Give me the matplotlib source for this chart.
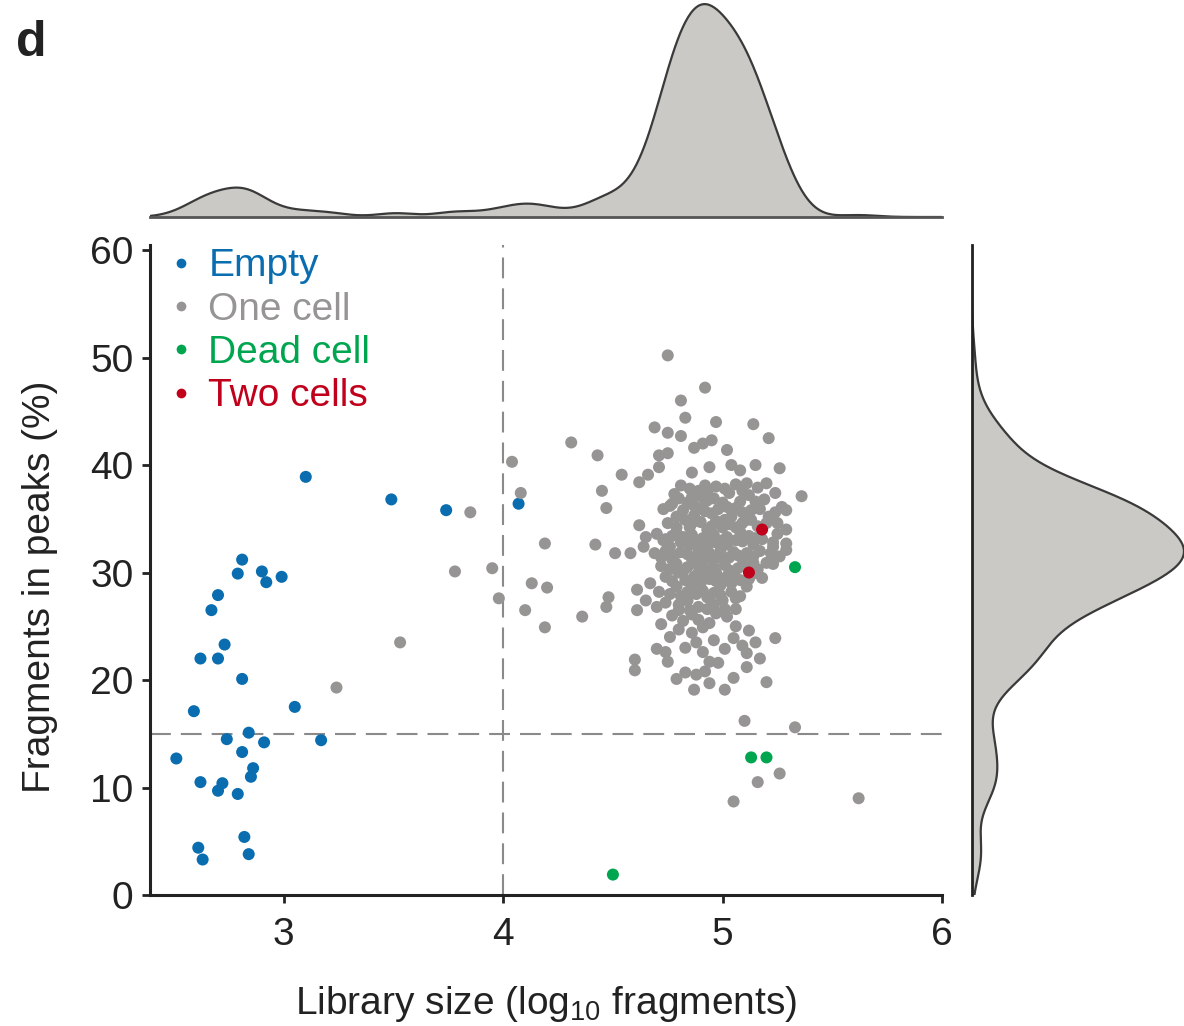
import matplotlib
matplotlib.use("Agg")

import numpy as np
import matplotlib.pyplot as plt
from matplotlib.lines import Line2D

plt.rcParams["font.family"] = ["Liberation Sans", "DejaVu Sans"]
plt.rcParams["mathtext.fontset"] = "custom"
plt.rcParams["mathtext.rm"] = "Liberation Sans"

# x: library size (log10 fragments), y: fragments in peaks (%)
empty_x = [3.10, 2.81, 2.79, 2.90, 2.92, 2.99, 2.70, 2.67, 2.73, 2.62, 2.70,
           2.81, 2.59, 3.05, 2.84, 2.74, 2.91, 3.17, 2.81, 2.51, 2.86, 2.85,
           2.62, 2.72, 2.70, 2.79, 2.82, 2.61, 2.63, 2.84, 3.49, 3.74, 4.07]
empty_y = [38.9, 31.2, 29.9, 30.1, 29.1, 29.6, 27.9, 26.5, 23.3, 22.0, 22.0,
           20.1, 17.1, 17.5, 15.1, 14.5, 14.2, 14.4, 13.3, 12.7, 11.8, 11.0,
           10.5, 10.4, 9.7, 9.4, 5.4, 4.4, 3.3, 3.8, 36.8, 35.8, 36.4]

one_x = [3.24, 3.53, 3.78, 3.85, 3.95, 3.98, 4.04, 4.08, 4.13, 4.20, 4.10,
         4.19, 4.19, 4.31, 4.36, 4.42, 4.43, 4.45, 4.47, 4.48, 4.47, 4.51,
         4.54, 5.10, 5.33, 5.26, 5.16, 5.05, 5.62,
         4.75, 4.92, 4.81, 4.83, 4.97, 5.14, 5.21, 4.69, 4.75, 4.81, 4.91,
         4.95, 5.02, 4.87, 4.71, 4.75, 4.71, 4.62, 4.66, 4.94, 5.04, 5.08,
         5.15, 5.26, 5.11, 4.86, 4.81, 4.92, 5.20, 5.24, 5.36, 5.29, 5.03,
         4.86, 4.76, 4.62,
         4.84, 4.93, 5.00, 5.08, 5.15, 5.27, 4.79, 4.87, 4.95, 5.04, 5.11,
         5.21, 5.29, 4.79, 4.85, 4.93, 5.00, 5.08, 4.65, 4.73, 4.81, 4.90,
         4.97, 5.06, 5.23, 5.29,
         4.64, 4.76, 4.85, 4.93, 5.02, 5.14, 5.23, 5.29, 4.77, 4.86, 4.95,
         5.03, 5.09, 5.20, 4.80, 4.89, 4.97, 5.05, 5.18, 4.67, 4.79, 4.90,
         4.99, 5.11, 4.65, 4.74, 4.84, 4.93, 5.00, 4.77, 4.85, 4.97, 5.02,
         4.58, 4.61, 4.71, 4.61, 4.80, 4.91, 4.80, 4.76, 4.86, 4.96, 5.05,
         5.15, 5.24, 4.74, 4.75, 4.60, 4.60, 4.91, 4.94, 4.98, 5.11, 5.17,
         5.11, 4.83, 4.88, 4.94, 5.01, 4.87, 5.20,
         # dense core, overlapping dots
         4.89, 4.97, 5.06, 5.16, 4.80, 4.90, 4.96, 5.12, 5.19,
         4.82, 4.90, 4.98, 5.06, 5.13, 5.24, 4.73,
         4.75, 4.83, 4.90, 4.97, 5.03, 5.09, 5.16, 5.25,
         4.70, 4.77, 4.86, 4.91, 4.96, 5.02, 5.12, 5.18, 5.25,
         4.69, 4.74, 4.81, 4.89, 4.94, 4.99, 5.05, 5.11, 5.17, 5.26,
         4.72, 4.79, 4.84, 4.91, 4.96, 5.01, 5.07, 5.14, 5.23,
         4.74, 4.83, 4.87, 4.94, 5.01, 5.08, 5.14,
         4.76, 4.84, 4.88, 4.96, 5.04, 5.08,
         4.70, 4.80, 4.89, 4.96, 5.06,
         4.72, 4.82, 4.89, 4.94, 5.06, 5.12,
         4.83, 4.88, 5.01, 5.09, 4.70,
         4.79, 5.05, 4.92,
         4.78, 4.85, 4.93, 5.01, 5.09,
         4.77, 4.87, 4.92, 5.02, 5.09, 5.17,
         4.79, 4.86, 4.95, 5.01, 5.06, 5.13, 5.20,
         4.74, 4.82, 4.88, 4.94, 5.00, 5.09, 5.15,
         4.72, 4.78, 4.84, 4.91, 4.98, 5.07, 5.14, 5.22,
         4.76, 4.82, 4.87, 4.94, 5.03, 5.10, 5.16,
         4.77, 4.86, 4.92, 4.97, 5.04, 5.12,
         4.81, 4.91, 4.99, 5.06,
         4.86, 4.93, 5.01]
one_y = [19.3, 23.5, 30.1, 35.6, 30.4, 27.6, 40.3, 37.4, 29.0, 28.6, 26.5,
         24.9, 32.7, 42.1, 25.9, 32.6, 40.9, 37.6, 36.0, 27.7, 26.8, 31.8,
         39.1, 16.2, 15.6, 11.3, 10.5, 8.7, 9.0,
         50.2, 47.2, 46.0, 44.4, 44.0, 43.8, 42.5, 43.5, 43.0, 42.7, 42.0,
         42.3, 41.4, 41.6, 40.9, 41.1, 39.8, 38.4, 39.1, 39.8, 40.0, 39.5,
         40.0, 39.7, 38.3, 39.3, 38.1, 38.1, 38.3, 37.4, 37.1, 35.8, 37.4,
         37.0, 36.2, 34.4,
         36.5, 36.7, 36.5, 36.6, 36.6, 36.1, 35.2, 35.3, 35.5, 35.2, 34.9,
         35.2, 34.0, 33.7, 34.2, 34.0, 34.2, 33.8, 33.3, 33.0, 32.8, 32.7,
         32.8, 33.0, 32.8, 32.7,
         32.4, 32.4, 32.6, 32.4, 32.6, 32.6, 32.4, 32.1, 31.2, 31.3, 31.3,
         31.4, 31.3, 30.9, 30.0, 30.0, 30.0, 30.0, 29.5, 29.0, 28.7, 29.0,
         28.8, 28.7, 27.4, 27.2, 27.4, 27.7, 27.4, 26.0, 26.5, 26.2, 25.9,
         31.8, 28.4, 28.2, 26.5, 26.5, 24.9, 24.7, 24.0, 24.4, 23.7, 23.9,
         23.5, 23.9, 22.6, 21.7, 21.9, 20.9, 22.6, 21.7, 21.6, 22.5, 22.0,
         21.2, 20.7, 20.5, 19.7, 19.1, 19.1, 19.8,
         37.6, 38.0, 38.2, 37.9, 36.9, 37.1, 36.9, 37.2, 36.8,
         35.8, 36.0, 35.9, 36.0, 35.8, 35.6, 35.9,
         34.6, 34.9, 34.7, 34.8, 34.5, 34.6, 34.3, 34.6,
         33.6, 33.4, 33.5, 33.2, 33.5, 33.3, 33.4, 33.1, 33.6,
         31.8, 32.0, 31.9, 32.0, 31.8, 32.0, 31.9, 31.8, 32.0, 31.5,
         30.6, 30.8, 30.5, 30.7, 30.5, 30.7, 30.4, 30.9, 30.8,
         29.6, 29.3, 29.6, 29.4, 29.5, 29.3, 29.9,
         28.0, 28.2, 28.0, 28.1, 28.2, 27.8,
         26.8, 27.0, 26.8, 27.0, 26.6,
         25.2, 25.5, 25.6, 25.3, 25.0, 24.6,
         23.0, 23.5, 22.9, 23.2, 22.9,
         20.1, 20.2, 20.8,
         37.3, 37.8, 37.4, 37.8, 37.6,
         36.4, 36.2, 35.7, 36.1, 35.6, 35.9,
         34.2, 34.6, 34.3, 34.9, 34.2, 34.9, 34.6,
         33.1, 33.3, 33.0, 32.9, 33.0, 32.9, 33.2,
         31.4, 31.6, 31.7, 31.5, 31.4, 31.6, 31.5, 31.8,
         30.3, 30.1, 30.9, 30.2, 30.2, 30.6, 30.3,
         29.2, 28.9, 29.7, 29.2, 29.0, 29.4,
         27.8, 28.3, 27.9, 27.6,
         26.1, 26.6, 26.6]

dead_x = [5.33, 4.50, 5.13, 5.20]
dead_y = [30.5, 1.9, 12.8, 12.8]

two_x = [5.18, 5.12]
two_y = [34.0, 30.0]

groups = [("Empty", empty_x, empty_y, "#0a6db0"),
          ("One cell", one_x, one_y, "#969594"),
          ("Dead cell", dead_x, dead_y, "#00a54f"),
          ("Two cells", two_x, two_y, "#c1001b")]

all_x = np.concatenate([g[1] for g in groups])
all_y = np.concatenate([g[2] for g in groups])


def kde(values, grid, bw):
    v = np.asarray(values)[:, None]
    return np.exp(-0.5 * ((grid[None, :] - v) / bw) ** 2).sum(axis=0)


W, H = 1184, 1026
fig = plt.figure(figsize=(W / 100, H / 100), dpi=100)

# Main scatter
ax = fig.add_axes([150 / W, 131 / H, 792 / W, 650 / H])
for label, xs, ys, col in groups:
    ax.scatter(xs, ys, s=75, color=col, edgecolors="none", zorder=3)
ax.axvline(4, color="#8a8a8a", lw=1.5, dashes=(10, 4.8), zorder=1)
ax.axhline(15, color="#8a8a8a", lw=1.5, dashes=(10, 4.8), zorder=1)

ax.set_xlim(2.39, 6.0)
ax.set_ylim(0, 60.47)
ax.set_xticks([3, 4, 5, 6])
ax.set_yticks([0, 10, 20, 30, 40, 50, 60])
for side in ("top", "right"):
    ax.spines[side].set_visible(False)
for side in ("left", "bottom"):
    ax.spines[side].set_linewidth(2.2)
    ax.spines[side].set_color("#222222")
ax.tick_params(direction="out", length=6, width=2, labelsize=28,
               colors="#222222", pad=6)
ax.tick_params(axis="x", pad=10)
ax.set_xlabel("Library size (log$_{10}$ fragments)", fontsize=28,
              color="#222222", labelpad=22)
ax.set_ylabel("Fragments in peaks (%)", fontsize=28, color="#222222")
ax.yaxis.set_label_coords(-0.116, 0.474)

handles = [Line2D([], [], ls="none", marker="o", markersize=7,
                  markerfacecolor=c, markeredgecolor="none") for _, _, _, c in groups]
leg = ax.legend(handles, [g[0] for g in groups], loc="upper left",
                frameon=False, fontsize=28, handlelength=0.6,
                handletextpad=0.4, labelspacing=0.19,
                borderaxespad=0.1, bbox_to_anchor=(0.0, 1.025))
for txt, g in zip(leg.get_texts(), groups):
    txt.set_color(g[3])

fill_col = "#cac9c5"
line_col = "#3a3a3a"

# Top marginal density
axt = fig.add_axes([150 / W, (H - 217) / H, 792 / W, 215 / H])
gx = np.linspace(2.39, 6.0, 600)
dx = kde(all_x, gx, 0.085)
axt.fill_between(gx, 0, dx, color=fill_col, lw=0)
axt.plot(gx, dx, color=line_col, lw=1.6)
axt.set_xlim(2.39, 6.0)
axt.set_ylim(0, dx.max() * 1.01)
axt.set_xticks([])
axt.set_yticks([])
for side in ("top", "right", "left"):
    axt.spines[side].set_visible(False)
axt.spines["bottom"].set_linewidth(2)
axt.spines["bottom"].set_color("#555555")

# Right marginal density
axr = fig.add_axes([972 / W, 131 / H, 212 / W, 650 / H])
gy = np.linspace(0, 60.47, 600)
dy = kde(all_y, gy, 2.0)
axr.fill_betweenx(gy, 0, dy, color=fill_col, lw=0)
axr.plot(dy, gy, color=line_col, lw=1.6)
axr.set_ylim(0, 60.47)
axr.set_xlim(0, dy.max() * 1.0)
axr.set_xticks([])
axr.set_yticks([])
for side in ("top", "right", "bottom"):
    axr.spines[side].set_visible(False)
axr.spines["left"].set_linewidth(2)
axr.spines["left"].set_color("#222222")

fig.text(16 / W, (H - 56) / H, "d", fontsize=36, fontweight="bold",
         color="#222222", va="baseline")

fig.savefig("out.png", dpi=100)
